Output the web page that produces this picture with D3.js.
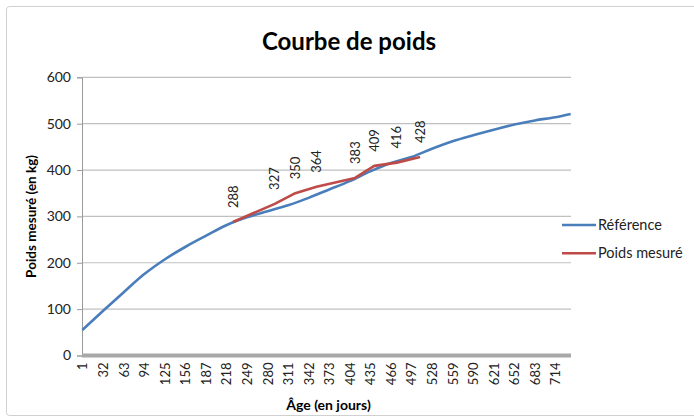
<!DOCTYPE html>
<html><head><meta charset="utf-8">
<script src="https://cdn.jsdelivr.net/npm/d3@7"></script>
<style>body{margin:0;background:#fff} svg{display:block} text{font-family:Lato,'Open Sans',sans-serif}</style>
</head><body><svg id="c" width="694" height="419"></svg>
<script>
// ---- data ----
const refDays = [1,32,63,94,125,156,187,218,249,280,311,342,373,404,435,466,497,528,559,590,621,652,683,714,737];
const refValues = [55,96,136,175,207,234,258,281,298,311,324,340,358,376,397,415,428,446,462,475,487,498,507,514,521];
const measDays = [228,291,322,354,412,441,475,510];
const measValues = [288,327,350,364,383,409,416,428];
const xTickLabels = [1,32,63,94,125,156,187,218,249,280,311,342,373,404,435,466,497,528,559,590,621,652,683,714];
const yTicks = [0,100,200,300,400,500,600];
const seriesNames = ["Référence","Poids mesuré"];
const seriesColors = ["#4a7ebb","#be4b48"];
const dayCount = 737;

const svg = d3.select("#c");
const L = 82, R = 571, T = 77.3, B = 355.5;
const x = d3.scaleLinear().domain([0.5, dayCount + 0.5]).range([L, R]);
const y = d3.scaleLinear().domain([0, 600]).range([B, T]);

// frame
svg.append("rect").attr("x",6.5).attr("y",6.5).attr("width",700).attr("height",409)
  .attr("fill","#fff").attr("stroke","#d0d0d0").attr("rx",3);

// title
svg.append("text").attr("x",349).attr("y",50).attr("text-anchor","middle")
  .attr("font-size",24).attr("font-weight","bold").attr("fill","#000").text("Courbe de poids");

// gridlines
svg.append("g").selectAll("line").data(yTicks.filter(d=>d>0)).join("line")
  .attr("x1",L).attr("x2",R).attr("y1",d=>y(d)).attr("y2",d=>y(d))
  .attr("stroke","#c0c0c0").attr("stroke-width",1.2);

// y axis
const yAxis = d3.axisLeft(y).tickValues(yTicks).tickSize(5).tickPadding(6);
const gy = svg.append("g").attr("transform",`translate(${L},0)`).call(yAxis);
gy.select(".domain").attr("stroke","#9a9a9a");
gy.selectAll(".tick line").attr("stroke","#9a9a9a");
gy.selectAll(".tick text").attr("font-size",14).attr("fill","#222").style("font-family","Lato,'Open Sans',sans-serif");

// x axis (category ticks)
const xAxis = d3.axisBottom(x).tickValues(xTickLabels).tickSize(0).tickPadding(6);
const gx = svg.append("g").attr("transform",`translate(0,${B})`).call(xAxis);
gx.select(".domain").remove();
gx.selectAll(".tick text").attr("font-size",13).attr("fill","#222")
  .style("font-family","Lato,'Open Sans',sans-serif")
  .attr("transform","rotate(-90)").attr("text-anchor","end")
  .attr("x",-7).attr("y",0).attr("dy","0.35em");
svg.append("line").attr("x1",L).attr("x2",R).attr("y1",B).attr("y2",B)
  .attr("stroke","#a8a8a8").attr("stroke-width",4);

// axis titles
svg.append("text").attr("transform",`translate(31,${(T+B)/2}) rotate(-90)`)
  .attr("text-anchor","middle").attr("dy","0.35em").attr("font-size",13.5).attr("font-weight","bold")
  .text("Poids mesuré (en kg)");
svg.append("text").attr("x",(L+R)/2+2).attr("y",410).attr("text-anchor","middle")
  .attr("font-size",14).attr("font-weight","bold").text("Âge (en jours)");

// lines
const line = d3.line().x(d=>x(d[0])).y(d=>y(d[1])).curve(d3.curveMonotoneX);
const refData = refDays.map((d,i)=>[d,refValues[i]]);
const measData = measDays.map((d,i)=>[d,measValues[i]]);
svg.append("path").datum(refData).attr("d",line).attr("fill","none")
  .attr("stroke",seriesColors[0]).attr("stroke-width",2.6).attr("stroke-linejoin","round");
svg.append("path").datum(measData).attr("d",d3.line().x(d=>x(d[0])).y(d=>y(d[1])))
  .attr("fill","none").attr("stroke",seriesColors[1]).attr("stroke-width",2.6).attr("stroke-linejoin","round");

// data labels
svg.append("g").selectAll("text").data(measData).join("text")
  .attr("transform",d=>`translate(${x(d[0])},${y(d[1])-14}) rotate(-90)`)
  .attr("dy","0.35em").attr("font-size",13).attr("fill","#222").text(d=>d[1]);

// legend
const lg = svg.append("g").selectAll("g").data(seriesNames).join("g")
  .attr("transform",(d,i)=>`translate(562,${225+i*28.3})`);
lg.append("line").attr("x1",0).attr("x2",34).attr("stroke",(d,i)=>seriesColors[i]).attr("stroke-width",2.6);
lg.append("text").attr("x",36).attr("dy","0.35em").attr("font-size",14.5).attr("fill","#222").text(d=>d);
</script></body></html>
